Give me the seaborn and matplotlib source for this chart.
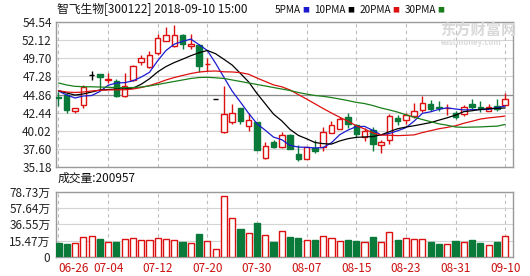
import numpy as np
import pandas as pd
import matplotlib
matplotlib.use("Agg")
import matplotlib.pyplot as plt
import seaborn as sns

# ---------------- data ----------------
tick_pos = [0, 6, 12, 18, 24, 30, 36, 42, 48, 54]
tick_dates = ["06-26", "07-04", "07-12", "07-20", "07-30",
              "08-07", "08-15", "08-23", "08-31", "09-10"]

open_ = [44.55, 44.79, 42.62, 43.42, 47.42, 47.56, 46.82, 46.62, 44.62, 46.76,
         49.20, 48.49, 50.40, 52.04, 51.30, 52.84, 51.30, 51.51, 48.90, 44.26,
         39.85, 41.19, 43.06, 40.69, 41.15, 36.38, 38.48, 37.81, 39.50, 36.92,
         36.29, 37.72, 37.81, 39.72, 40.29, 41.82, 40.79, 39.15, 40.16, 38.16,
         38.83, 41.72, 41.50, 41.95, 42.83, 43.59, 43.20, 43.00, 42.39, 42.26,
         43.59, 43.20, 42.70, 43.28, 43.50]
high = [45.15, 45.00, 43.10, 46.17, 48.04, 47.56, 47.70, 46.93, 47.73, 48.84,
        50.09, 50.63, 52.94, 53.83, 54.10, 52.90, 52.98, 51.60, 49.73, 44.26,
        46.04, 43.59, 43.10, 42.39, 41.20, 38.52, 38.79, 39.81, 39.55, 38.16,
        37.90, 38.83, 40.48, 41.36, 41.86, 42.39, 40.92, 40.39, 40.48, 38.83,
        42.26, 42.17, 42.39, 43.72, 44.70, 44.17, 44.03, 43.59, 42.62, 43.42,
        44.26, 43.95, 43.59, 44.26, 45.06]
low = [43.30, 42.45, 42.43, 43.06, 46.76, 45.50, 46.35, 44.50, 44.50, 46.70,
       48.84, 48.40, 50.17, 52.00, 51.20, 50.98, 51.00, 47.86, 48.04, 44.26,
       39.72, 40.92, 40.92, 39.95, 37.41, 36.29, 37.70, 37.70, 37.55, 35.94,
       36.20, 37.05, 37.36, 39.72, 40.20, 40.39, 39.15, 38.69, 37.28, 37.05,
       38.25, 40.83, 40.92, 41.72, 42.52, 42.62, 42.62, 42.17, 41.59, 41.95,
       42.83, 42.52, 42.66, 42.70, 43.42]
close = [44.45, 42.79, 43.06, 45.86, 47.42, 47.16, 46.95, 44.62, 46.04, 48.63,
         49.73, 50.09, 52.40, 52.84, 52.84, 51.60, 51.64, 48.63, 48.95, 44.26,
         42.30, 42.39, 41.28, 41.41, 37.41, 37.95, 37.81, 39.50, 37.63, 36.29,
         37.81, 37.36, 39.81, 40.83, 41.63, 40.92, 39.65, 39.95, 38.25, 38.52,
         41.95, 41.36, 42.08, 42.62, 43.72, 42.96, 43.00, 43.08, 41.82, 43.15,
         43.15, 43.06, 43.15, 42.96, 44.30]
volume = [17.0, 15.5, 17.0, 24.3, 25.2, 21.5, 18.3, 18.3, 21.5, 22.3,
          20.3, 20.3, 22.3, 21.1, 20.3, 18.3, 17.0, 27.6, 19.1, 9.4,
          73.9, 46.6, 33.7, 29.2, 41.4, 26.4, 18.3, 31.3, 24.3, 23.1,
          20.3, 20.3, 25.2, 22.3, 19.1, 20.3, 19.1, 18.3, 23.5, 18.3,
          29.6, 20.3, 22.3, 21.5, 21.5, 18.3, 15.5, 15.5, 19.1, 18.3,
          20.3, 17.0, 14.2, 18.3, 25.2]
ma5 = [45.33, 44.79, 44.39, 44.66, 44.72, 45.26, 46.09, 46.40, 46.44, 46.68,
       47.19, 47.82, 49.38, 50.74, 51.58, 51.95, 52.26, 51.51, 50.73, 49.02,
       47.16, 45.31, 43.84, 42.33, 40.96, 40.09, 39.17, 38.82, 38.06, 37.84,
       37.81, 37.72, 37.78, 38.42, 39.49, 40.11, 40.57, 40.60, 40.08, 39.46,
       39.66, 40.01, 40.43, 41.31, 42.35, 42.55, 42.88, 43.08, 42.92, 42.80,
       42.84, 42.85, 42.87, 43.09, 43.32]
ma10 = [45.37, 45.06, 44.79, 44.93, 45.19, 45.46, 45.53, 45.59, 45.62, 45.70,
        46.23, 46.96, 47.89, 48.59, 49.13, 49.57, 50.04, 50.44, 50.74, 50.30,
        49.56, 48.79, 47.67, 46.53, 44.99, 43.62, 42.24, 41.33, 40.19, 39.40,
        38.95, 38.45, 38.30, 38.24, 38.66, 38.96, 39.14, 39.19, 39.25, 39.47,
        39.89, 40.29, 40.51, 40.69, 40.90, 41.11, 41.44, 41.75, 42.11, 42.57,
        42.69, 42.86, 42.97, 43.01, 43.06]
ma20 = [45.37, 45.19, 45.13, 45.19, 45.33, 45.42, 45.46, 45.49, 45.50, 45.59,
        45.79, 46.06, 46.40, 46.80, 47.13, 47.40, 47.66, 47.86, 47.96, 48.00,
        47.89, 47.87, 47.78, 47.56, 47.06, 46.60, 46.14, 45.89, 45.46, 44.85,
        44.25, 43.62, 42.99, 42.39, 41.82, 41.29, 40.69, 40.26, 39.72, 39.44,
        39.42, 39.37, 39.41, 39.47, 39.78, 40.03, 40.29, 40.47, 40.68, 41.02,
        41.29, 41.58, 41.74, 41.85, 41.98]
ma30 = [46.40, 46.13, 45.95, 45.90, 45.89, 45.86, 45.82, 45.79, 45.78, 45.79,
        45.86, 46.00, 46.20, 46.40, 46.60, 46.80, 47.00, 47.13, 47.16, 47.09,
        47.00, 46.80, 46.60, 46.40, 46.20, 46.00, 45.79, 45.59, 45.39, 45.13,
        44.91, 44.73, 44.62, 44.45, 44.26, 44.05, 43.81, 43.65, 43.39, 43.06,
        42.80, 42.51, 42.16, 41.82, 41.52, 41.23, 40.94, 40.76, 40.52, 40.48,
        40.51, 40.53, 40.59, 40.63, 40.86]
price_ticks = [35.18, 37.60, 40.02, 42.44, 44.86, 47.28, 49.70, 52.12, 54.54]
vol_tick_labels = ["0", "15.47万", "36.55万", "57.64万", "78.73万"]
vol_max = 78.73
title = "智飞生物[300122] 2018-09-10 15:00"
vol_text = "成交量:200957"
ma_names = ["5PMA", "10PMA", "20PMA", "30PMA"]

# ---------------- style ----------------
RED = "#dd1010"
GREEN = "#0a7a3a"
MA_COLORS = {"5PMA": "#1a1ad0", "10PMA": "#000000", "20PMA": "#dd1010", "30PMA": "#1a7f1a"}
GRID = "#d4d4d4"
FRAME = "#9a9a9a"

sns.set_theme(style="white")
plt.rcParams['font.family'] = ['Noto Sans CJK SC', 'DejaVu Sans']

W, H = 530, 276
fig = plt.figure(figsize=(W / 100, H / 100), dpi=100)
L, R = 56, 513
ax1 = fig.add_axes([L / W, (H - 167) / H, (R - L) / W, (167 - 22) / H])
ax2 = fig.add_axes([L / W, (H - 256.7) / H, (R - L) / W, (256.7 - 192) / H])

n = len(close)
x = np.arange(n)
o = np.array(open_); c = np.array(close)
colors = np.where(c > o, RED, np.where(c < o, GREEN, "#000000"))

# ---- main panel ----
for yv in price_ticks:
    ax1.axhline(yv, color=GRID, lw=0.8, zorder=0)
ax1.axhline(44.86, color="#8c8c8c", lw=0.9, zorder=0.5)
for tp in tick_pos:
    ax1.axvline(tp, color="#bdbdbd", lw=0.8, ls=(0, (3, 3)), zorder=0)
    ax2.axvline(tp, color="#bdbdbd", lw=0.8, ls=(0, (3, 3)), zorder=0)

ax1.vlines(x, low, high, colors=colors, lw=1.0, zorder=2)
body_bottom = np.minimum(o, c)
body_h = np.maximum(np.abs(c - o), 0.02)
face = [("white" if col == RED else col) for col in colors]
ax1.bar(x, body_h, bottom=body_bottom, width=0.66, color=face,
        edgecolor=colors, linewidth=1.0, zorder=3)

ma_df = pd.DataFrame({"x": x, "5PMA": ma5, "10PMA": ma10, "20PMA": ma20, "30PMA": ma30})
ma_long = ma_df.melt(id_vars="x", var_name="ma", value_name="price")
sns.lineplot(data=ma_long, x="x", y="price", hue="ma", palette=MA_COLORS,
             ax=ax1, legend=False, linewidth=0.9, zorder=4)

ax1.set_xlim(-0.3, 54.95)
ax1.set_ylim(35.18, 54.54)
ax1.set_yticks(price_ticks)
ax1.set_yticklabels([f"{v:.2f}" for v in price_ticks], fontsize=8.5, color="#222222")
ax1.set_xticks([])
ax1.set_xlabel(""); ax1.set_ylabel("")
ax1.tick_params(axis="y", length=0, pad=3)

# ---- volume panel ----
vcol = [RED if col == RED or col == "#000000" else GREEN for col in colors]
vface = ["white" if col == RED else col for col in vcol]
ax2.bar(x, volume, width=0.74, color=vface, edgecolor=vcol, linewidth=1.0, zorder=3)
ax2.set_xlim(-0.3, 54.95)
ax2.set_ylim(0, vol_max)
vt = [vol_max * k / 4 for k in range(5)]
for yv in vt:
    ax2.axhline(yv, color=GRID, lw=0.8, zorder=0)
ax2.set_yticks(vt)
ax2.set_yticklabels(vol_tick_labels, fontsize=8.5, color="#222222")
ax2.set_xticks(tick_pos)
ax2.set_xticklabels(tick_dates, fontsize=8.5, color="#cc1111")
ax2.get_xticklabels()[0].set_horizontalalignment("left")
ax2.tick_params(axis="both", length=0)
ax2.tick_params(axis="y", pad=4)
ax2.tick_params(axis="x", pad=4)
ax2.set_xlabel(""); ax2.set_ylabel("")

for ax in (ax1, ax2):
    for sp in ax.spines.values():
        sp.set_visible(True)
        sp.set_color(FRAME)
        sp.set_linewidth(1.0)

# ---- texts ----
fig.text(57 / W, 1 - 10 / H, title, fontsize=8.5, va="center", ha="left", color="#111111")

renderer = fig.canvas.get_renderer()
tx = 275
for name in ma_names:
    t = fig.text(tx / W, 1 - 10 / H, name, fontsize=7.2, va="center", ha="left", color="#111111")
    bb = t.get_window_extent(renderer=renderer)
    sx = bb.x1 + 1.5
    s = fig.text(sx / W, 1 - 10 / H, "■", fontsize=5, va="center", ha="left",
                 color=MA_COLORS[name])
    sb = s.get_window_extent(renderer=renderer)
    tx = sb.x1 + 5

fig.text(58 / W, 1 - 178 / H, vol_text, fontsize=8.5, va="center", ha="left", color="#111111")

# watermark
fig.text(440 / W, 1 - 30 / H, "东方财富网", fontsize=11, fontweight="bold",
         va="center", ha="left", color="#d9d9d9")
fig.text(441 / W, 1 - 42.5 / H, "eastmoney.com", fontsize=5.5, fontweight="bold",
         va="center", ha="left", color="#d9d9d9")

fig.savefig("out.png", dpi=100)
